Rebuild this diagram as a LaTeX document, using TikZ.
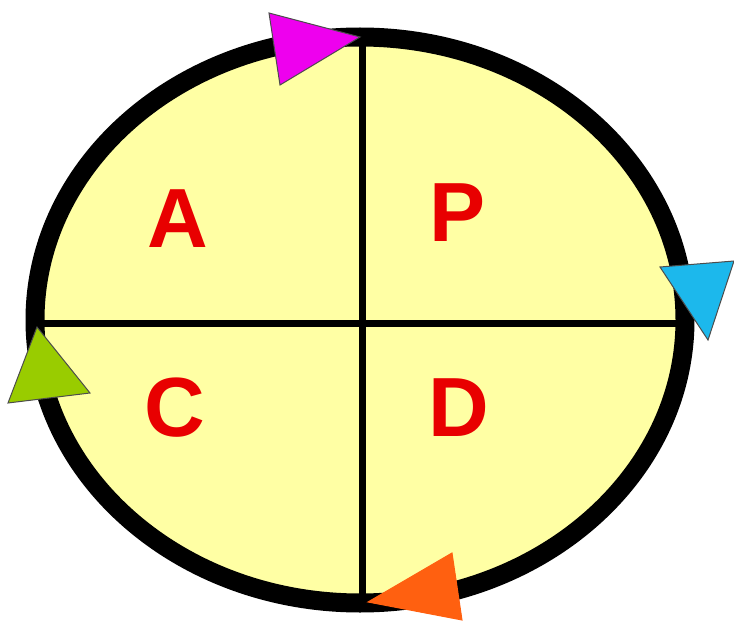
\documentclass[tikz,border=0pt]{standalone}
\usepackage{fontspec}
\setmainfont{Liberation Sans}
\definecolor{fillyel}{HTML}{FFFFA4}
\definecolor{lbl}{HTML}{E80000}
\definecolor{mag}{HTML}{EE00EE}
\definecolor{cya}{HTML}{1CB8EC}
\definecolor{grn}{HTML}{99CC00}
\definecolor{org}{HTML}{FF6010}
\begin{document}
\begin{tikzpicture}[x=1pt,y=-1pt,
  lbltxt/.style={text=lbl,font=\fontsize{84}{88}\selectfont\bfseries,inner sep=0pt},
  tri/.style={draw=black!70,line width=1pt,line join=miter}]
\useasboundingbox (0,0) rectangle (734,623);
\fill[fillyel] (360,320) ellipse [x radius=325, y radius=283];
\draw[line width=7pt] (362,37) -- (362,603);
\draw[line width=7pt] (35,323) -- (686,323);
\draw[line width=19pt] (360,320) ellipse [x radius=325, y radius=283];
\node[lbltxt] (A) at (178,219) {A};
\node[lbltxt] (P) at (458,213) {P};
\node[lbltxt] (C) at (175,408) {C};
\node[lbltxt] (D) at (459,408) {D};
\filldraw[tri,fill=mag] (269,13) -- (360,37) -- (280,85) -- cycle;
\filldraw[tri,fill=cya] (660,267) -- (734,261) -- (708,340) -- cycle;
\filldraw[tri,fill=grn] (37,327) -- (90,393) -- (8,403) -- cycle;
\filldraw[tri,fill=org,draw=org] (368,602) -- (452,553) -- (462,620) -- cycle;
\end{tikzpicture}
\end{document}
